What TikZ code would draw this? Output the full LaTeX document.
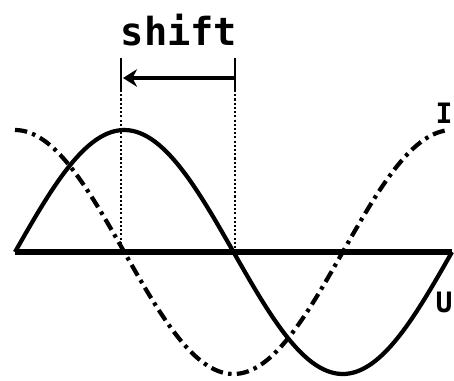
\documentclass[tikz,border=0pt]{standalone}
\usepackage{fontspec}
\setmonofont{DejaVu Sans Mono}
\usetikzlibrary{arrows.meta}

\begin{document}
\begin{tikzpicture}[
    x=0.02cm, y=-0.02cm,
    wave/.style={line width=2.4pt, line join=round},
    phase/.style={line width=2.4pt, dash pattern=on 7pt off 3pt on 2pt off 3pt},
    guide/.style={line width=0.7pt, dash pattern=on 1.2pt off 1.2pt},
    every node/.style={font=\ttfamily\bfseries, inner sep=0pt}
  ]
  \useasboundingbox (0,0) rectangle (454,380);

  % --- axis ---
  \coordinate (axL) at (15,252);
  \coordinate (axR) at (452,252);
  \draw[line width=3pt] (axL) -- (axR);

  % --- voltage (solid) and current (dash-dot) ---
  \draw[wave] plot[domain=15:452, samples=120, smooth]
    (\x, {252-122*sin((\x-15)/437*360)});
  \draw[phase] plot[domain=15:447, samples=120, smooth]
    (\x, {252-122*cos((\x-15)/437*360)});

  % --- shift marker ---
  \coordinate (gL) at (121,58);
  \coordinate (gR) at (235,58);
  \coordinate (gLm) at (121,90);
  \coordinate (gRm) at (235,90);
  \coordinate (gLb) at (121,252);
  \coordinate (gRb) at (235,252);
  \draw[line width=1.2pt] (gL) -- (gLm);
  \draw[line width=1.2pt] (gR) -- (gRm);
  \draw[guide] (gLm) -- (gLb);
  \draw[guide] (gRm) -- (gRb);
  \coordinate (arR) at (235,78);
  \coordinate (arL) at (123,78);
  \draw[line width=1.8pt, -{Stealth[length=8pt, width=10pt]}] (arR) -- (arL);

  \node[anchor=base, font=\ttfamily\bfseries\fontsize{22}{24}\selectfont] (shift) at (179,45) {shift};

  % --- curve labels ---
  \node[anchor=base east, font=\ttfamily\bfseries\fontsize{16}{18}\selectfont] (lblI) at (453,123) {I};
  \node[anchor=base east, font=\ttfamily\bfseries\fontsize{16}{18}\selectfont] (lblU) at (453,312) {U};
\end{tikzpicture}
\end{document}
